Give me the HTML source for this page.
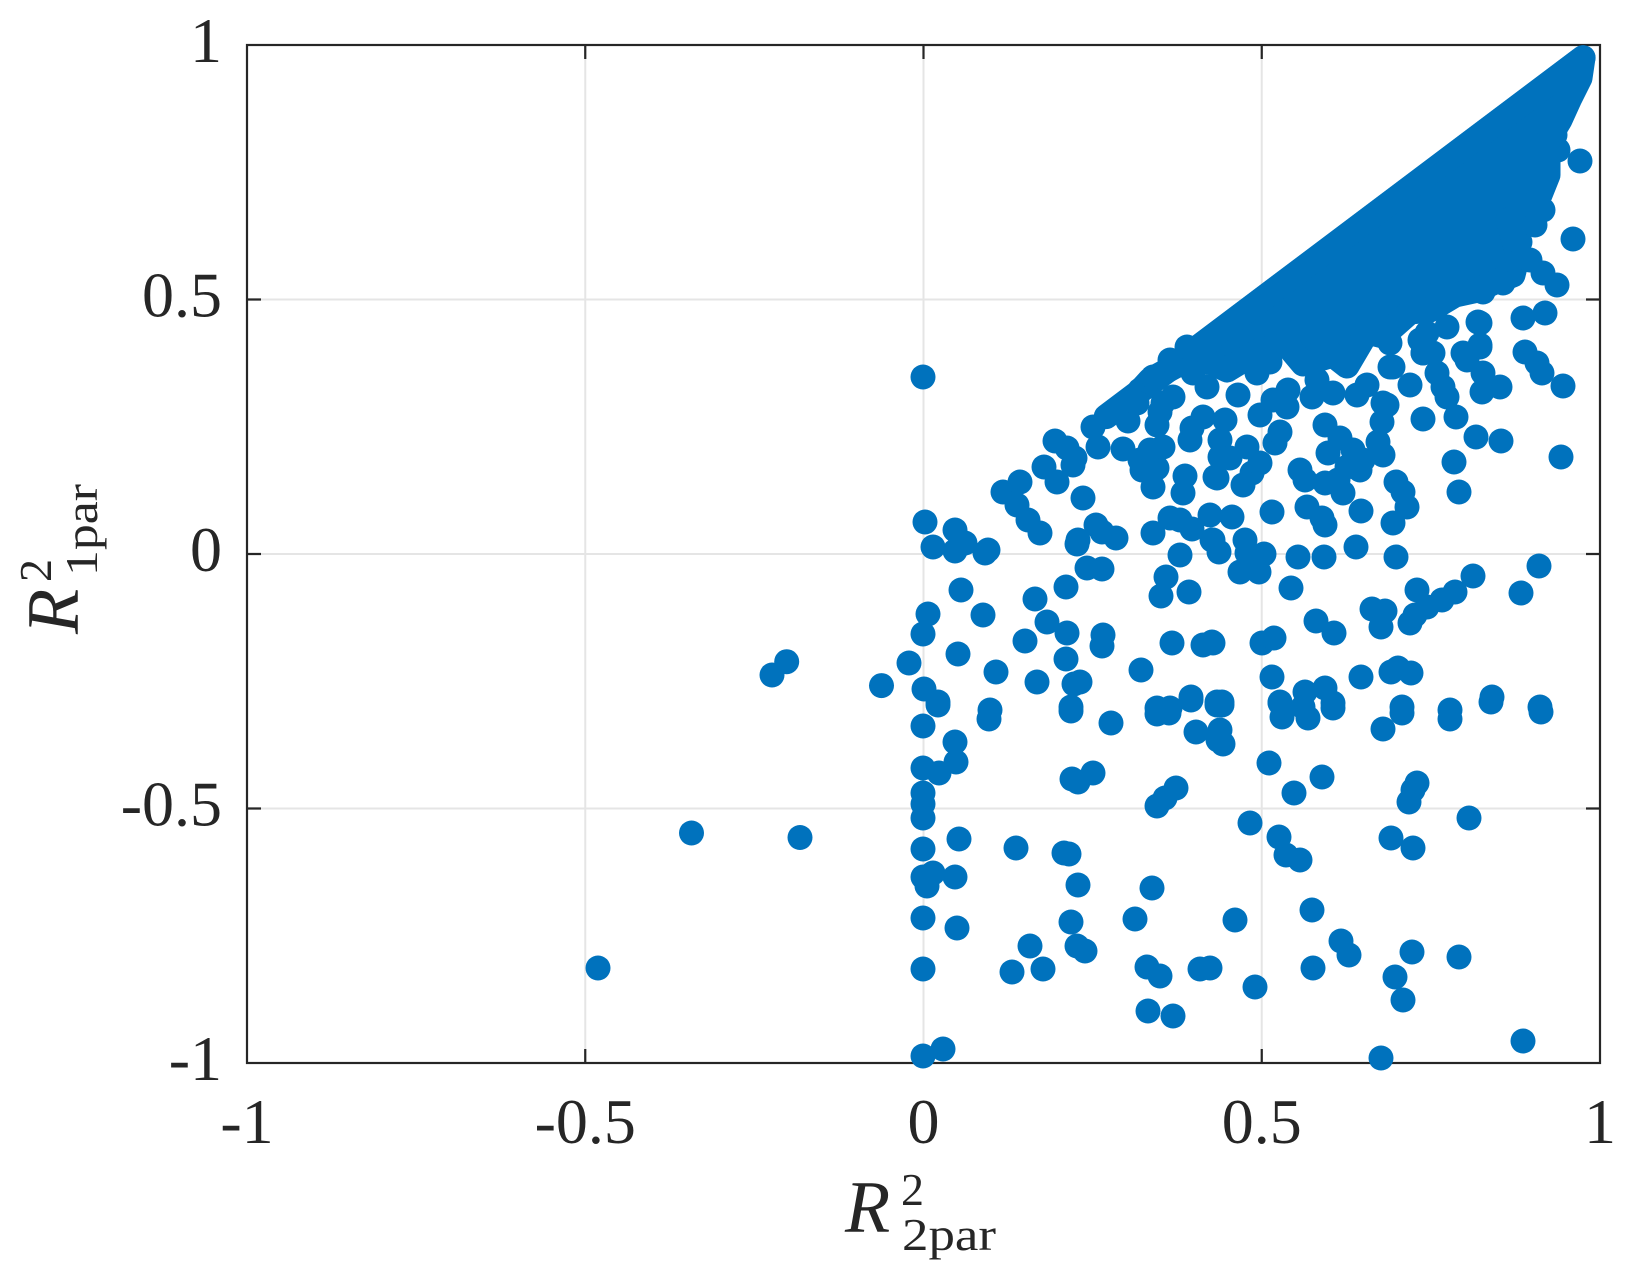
<!DOCTYPE html>
<html><head><meta charset="utf-8"><style>
html,body{margin:0;padding:0;background:#fff}
svg{display:block}
.t{font-family:"Liberation Serif",serif;fill:#262626}
</style></head><body>
<svg width="1630" height="1279" viewBox="0 0 1630 1279" xmlns="http://www.w3.org/2000/svg">
<rect width="1630" height="1279" fill="#fff"/>
<g stroke="#e5e5e5" stroke-width="2">
<line x1="585.25" y1="45" x2="585.25" y2="1063"/>
<line x1="923.5" y1="45" x2="923.5" y2="1063"/>
<line x1="1261.75" y1="45" x2="1261.75" y2="1063"/>
<line x1="247" y1="299.5" x2="1600" y2="299.5"/>
<line x1="247" y1="554" x2="1600" y2="554"/>
<line x1="247" y1="808.5" x2="1600" y2="808.5"/>
</g>
<g stroke="#262626" stroke-width="2.2" fill="none">
<rect x="247" y="45" width="1353" height="1018"/>
<path d="M585.25 1063v-14M923.5 1063v-14M1261.75 1063v-14M585.25 45v14M923.5 45v14M1261.75 45v14M247 299.5h14M247 554h14M247 808.5h14M1600 299.5h-14M1600 554h-14M1600 808.5h-14"/>
</g>
<g fill="#0072BD">
<line x1="1106.2" y1="416.6" x2="1583.1" y2="57.7" stroke="#0072BD" stroke-width="25" stroke-linecap="round"/>
<polygon stroke="#0072BD" stroke-width="25" stroke-linejoin="round" points="1140,391 1583,57.7 1580,78 1570,98 1560,120 1548,140 1548,175 1540,195 1532,210 1508,220 1518,255 1513,275 1495,282 1478,290 1455,295 1430,310 1410,312 1383,336 1367,332 1347,366 1333,355 1303,364 1287,345 1260,350 1227,370 1210,362 1183,362 1150,380"/>
<g>
<circle cx="598" cy="968" r="12.5"/><circle cx="691.5" cy="833" r="12.5"/><circle cx="800" cy="837.5" r="12.5"/><circle cx="772" cy="675" r="12.5"/><circle cx="786.7" cy="661.7" r="12.5"/><circle cx="881.5" cy="685.6" r="12.5"/><circle cx="909" cy="663" r="12.5"/>
<circle cx="923" cy="377" r="12.5"/><circle cx="925" cy="522" r="12.5"/><circle cx="933" cy="547" r="12.5"/><circle cx="955" cy="530" r="12.5"/><circle cx="955" cy="551" r="12.5"/><circle cx="965" cy="543" r="12.5"/><circle cx="985" cy="553" r="12.5"/><circle cx="988" cy="550" r="12.5"/><circle cx="961" cy="590" r="12.5"/><circle cx="928" cy="614" r="12.5"/><circle cx="923" cy="634" r="12.5"/><circle cx="983" cy="615" r="12.5"/><circle cx="958" cy="654" r="12.5"/><circle cx="924" cy="689" r="12.5"/><circle cx="938" cy="702" r="12.5"/>
<circle cx="1003" cy="492" r="12.5"/><circle cx="1020" cy="482" r="12.5"/><circle cx="1017" cy="505" r="12.5"/><circle cx="1028" cy="520" r="12.5"/><circle cx="1040" cy="533" r="12.5"/><circle cx="1055" cy="441" r="12.5"/><circle cx="1067" cy="448" r="12.5"/><circle cx="1075" cy="458" r="12.5"/><circle cx="1073" cy="465" r="12.5"/><circle cx="1044" cy="467" r="12.5"/><circle cx="1057" cy="482" r="12.5"/><circle cx="1083" cy="498" r="12.5"/><circle cx="1093" cy="427" r="12.5"/><circle cx="1098" cy="447" r="12.5"/><circle cx="1123" cy="449" r="12.5"/><circle cx="1128" cy="421" r="12.5"/><circle cx="1123" cy="413" r="12.5"/><circle cx="1127" cy="402" r="12.5"/>
<circle cx="1078" cy="540" r="12.5"/><circle cx="1077" cy="544" r="12.5"/><circle cx="1096" cy="525" r="12.5"/><circle cx="1102" cy="532" r="12.5"/><circle cx="1116" cy="538" r="12.5"/><circle cx="1087" cy="568" r="12.5"/><circle cx="1102" cy="569" r="12.5"/><circle cx="1066" cy="587" r="12.5"/><circle cx="1035" cy="599" r="12.5"/><circle cx="1047" cy="622" r="12.5"/><circle cx="1067" cy="633" r="12.5"/><circle cx="1025" cy="641" r="12.5"/><circle cx="1103" cy="635" r="12.5"/><circle cx="1102" cy="646" r="12.5"/><circle cx="1066" cy="659" r="12.5"/><circle cx="996" cy="672" r="12.5"/><circle cx="1037" cy="682" r="12.5"/><circle cx="1074" cy="684" r="12.5"/><circle cx="1080" cy="682" r="12.5"/><circle cx="1071" cy="707" r="12.5"/><circle cx="990" cy="710" r="12.5"/>
<circle cx="1141" cy="670" r="12.5"/><circle cx="1172" cy="643" r="12.5"/><circle cx="1203" cy="645" r="12.5"/><circle cx="1212" cy="642" r="12.5"/><circle cx="1191" cy="697" r="12.5"/><circle cx="1157" cy="708" r="12.5"/><circle cx="1170" cy="708" r="12.5"/><circle cx="1217" cy="702" r="12.5"/><circle cx="1153" cy="533" r="12.5"/><circle cx="1170" cy="518" r="12.5"/><circle cx="1180" cy="520" r="12.5"/><circle cx="1192" cy="529" r="12.5"/><circle cx="1210" cy="515" r="12.5"/><circle cx="1212" cy="540" r="12.5"/><circle cx="1180" cy="555" r="12.5"/><circle cx="1166" cy="577" r="12.5"/><circle cx="1161" cy="596" r="12.5"/><circle cx="1189" cy="592" r="12.5"/>
<circle cx="1153" cy="487" r="12.5"/><circle cx="1183" cy="493" r="12.5"/><circle cx="1185" cy="476" r="12.5"/><circle cx="1215" cy="477" r="12.5"/><circle cx="1142" cy="470" r="12.5"/><circle cx="1157" cy="468" r="12.5"/><circle cx="1140" cy="460" r="12.5"/><circle cx="1150" cy="450" r="12.5"/><circle cx="1163" cy="447" r="12.5"/><circle cx="1157" cy="425" r="12.5"/><circle cx="1160" cy="412" r="12.5"/><circle cx="1190" cy="440" r="12.5"/><circle cx="1192" cy="428" r="12.5"/><circle cx="1220" cy="440" r="12.5"/><circle cx="1220" cy="457" r="12.5"/><circle cx="1203" cy="417" r="12.5"/><circle cx="1207" cy="387" r="12.5"/><circle cx="1193" cy="373" r="12.5"/><circle cx="1173" cy="397" r="12.5"/><circle cx="1163" cy="403" r="12.5"/><circle cx="1140" cy="390" r="12.5"/><circle cx="1153" cy="377" r="12.5"/><circle cx="1170" cy="360" r="12.5"/><circle cx="1187" cy="347" r="12.5"/><circle cx="1203" cy="350" r="12.5"/><circle cx="1137" cy="403" r="12.5"/>
<circle cx="923" cy="726" r="12.5"/><circle cx="938" cy="705" r="12.5"/><circle cx="955" cy="742" r="12.5"/><circle cx="956" cy="762" r="12.5"/><circle cx="923" cy="768" r="12.5"/><circle cx="939" cy="773" r="12.5"/><circle cx="923" cy="793" r="12.5"/><circle cx="923" cy="804" r="12.5"/><circle cx="923" cy="818" r="12.5"/><circle cx="923" cy="849" r="12.5"/><circle cx="959" cy="839" r="12.5"/><circle cx="923" cy="877" r="12.5"/><circle cx="933" cy="873" r="12.5"/><circle cx="927" cy="886" r="12.5"/><circle cx="955" cy="877" r="12.5"/><circle cx="923" cy="918" r="12.5"/><circle cx="957" cy="928" r="12.5"/><circle cx="923" cy="969" r="12.5"/><circle cx="923" cy="1056" r="12.5"/><circle cx="943" cy="1049" r="12.5"/>
<circle cx="989" cy="719" r="12.5"/><circle cx="1071" cy="711" r="12.5"/><circle cx="1111" cy="723" r="12.5"/><circle cx="1157" cy="714" r="12.5"/><circle cx="1169" cy="713" r="12.5"/><circle cx="1191" cy="700" r="12.5"/><circle cx="1196" cy="732" r="12.5"/><circle cx="1218" cy="740" r="12.5"/><circle cx="1217" cy="705" r="12.5"/><circle cx="1072" cy="779" r="12.5"/><circle cx="1078" cy="782" r="12.5"/><circle cx="1093" cy="773" r="12.5"/><circle cx="1157" cy="806" r="12.5"/><circle cx="1165" cy="798" r="12.5"/><circle cx="1176" cy="788" r="12.5"/><circle cx="1016" cy="848" r="12.5"/><circle cx="1064" cy="853" r="12.5"/><circle cx="1069" cy="854" r="12.5"/><circle cx="1078" cy="885" r="12.5"/><circle cx="1152" cy="888" r="12.5"/><circle cx="1071" cy="922" r="12.5"/><circle cx="1135" cy="919" r="12.5"/><circle cx="1030" cy="946" r="12.5"/><circle cx="1077" cy="946" r="12.5"/><circle cx="1085" cy="951" r="12.5"/><circle cx="1012" cy="972" r="12.5"/><circle cx="1043" cy="969" r="12.5"/><circle cx="1147" cy="967" r="12.5"/><circle cx="1160" cy="976" r="12.5"/><circle cx="1200" cy="969" r="12.5"/><circle cx="1148" cy="1011" r="12.5"/><circle cx="1173" cy="1016" r="12.5"/>
<circle cx="1238" cy="395" r="12.5"/><circle cx="1225" cy="420" r="12.5"/><circle cx="1230" cy="458" r="12.5"/><circle cx="1217" cy="478" r="12.5"/><circle cx="1243" cy="485" r="12.5"/><circle cx="1252" cy="473" r="12.5"/><circle cx="1260" cy="463" r="12.5"/><circle cx="1247" cy="447" r="12.5"/><circle cx="1260" cy="415" r="12.5"/><circle cx="1273" cy="400" r="12.5"/><circle cx="1275" cy="443" r="12.5"/><circle cx="1280" cy="432" r="12.5"/><circle cx="1287" cy="407" r="12.5"/><circle cx="1270" cy="362" r="12.5"/><circle cx="1257" cy="373" r="12.5"/><circle cx="1230" cy="367" r="12.5"/><circle cx="1288" cy="390" r="12.5"/><circle cx="1312" cy="397" r="12.5"/><circle cx="1317" cy="380" r="12.5"/><circle cx="1333" cy="393" r="12.5"/><circle cx="1357" cy="395" r="12.5"/><circle cx="1367" cy="385" r="12.5"/><circle cx="1387" cy="405" r="12.5"/><circle cx="1382" cy="422" r="12.5"/><circle cx="1378" cy="442" r="12.5"/><circle cx="1383" cy="455" r="12.5"/><circle cx="1325" cy="425" r="12.5"/><circle cx="1340" cy="438" r="12.5"/><circle cx="1328" cy="453" r="12.5"/><circle cx="1353" cy="450" r="12.5"/><circle cx="1363" cy="460" r="12.5"/><circle cx="1360" cy="470" r="12.5"/><circle cx="1347" cy="467" r="12.5"/><circle cx="1300" cy="470" r="12.5"/><circle cx="1305" cy="480" r="12.5"/><circle cx="1325" cy="483" r="12.5"/><circle cx="1343" cy="493" r="12.5"/><circle cx="1338" cy="480" r="12.5"/>
<circle cx="1390" cy="367" r="12.5"/><circle cx="1410" cy="385" r="12.5"/><circle cx="1390" cy="343" r="12.5"/><circle cx="1423" cy="353" r="12.5"/><circle cx="1437" cy="373" r="12.5"/><circle cx="1443" cy="387" r="12.5"/><circle cx="1447" cy="397" r="12.5"/><circle cx="1423" cy="419" r="12.5"/><circle cx="1456" cy="417" r="12.5"/><circle cx="1480" cy="347" r="12.5"/><circle cx="1467" cy="360" r="12.5"/><circle cx="1483" cy="373" r="12.5"/><circle cx="1482" cy="392" r="12.5"/><circle cx="1500" cy="387" r="12.5"/><circle cx="1525" cy="352" r="12.5"/><circle cx="1537" cy="363" r="12.5"/><circle cx="1542" cy="373" r="12.5"/><circle cx="1563" cy="386" r="12.5"/><circle cx="1476" cy="437" r="12.5"/><circle cx="1501" cy="441" r="12.5"/><circle cx="1561" cy="457" r="12.5"/><circle cx="1454" cy="462" r="12.5"/><circle cx="1459" cy="492" r="12.5"/><circle cx="1396" cy="482" r="12.5"/><circle cx="1403" cy="492" r="12.5"/><circle cx="1407" cy="507" r="12.5"/><circle cx="1393" cy="523" r="12.5"/><circle cx="1361" cy="511" r="12.5"/><circle cx="1307" cy="507" r="12.5"/><circle cx="1322" cy="518" r="12.5"/><circle cx="1325" cy="525" r="12.5"/><circle cx="1272" cy="512" r="12.5"/><circle cx="1232" cy="517" r="12.5"/>
<circle cx="1213" cy="540" r="12.5"/><circle cx="1219" cy="552" r="12.5"/><circle cx="1245" cy="540" r="12.5"/><circle cx="1247" cy="553" r="12.5"/><circle cx="1264" cy="554" r="12.5"/><circle cx="1240" cy="572" r="12.5"/><circle cx="1259" cy="572" r="12.5"/><circle cx="1298" cy="557" r="12.5"/><circle cx="1324" cy="557" r="12.5"/><circle cx="1356" cy="547" r="12.5"/><circle cx="1396" cy="557" r="12.5"/><circle cx="1291" cy="588" r="12.5"/><circle cx="1316" cy="621" r="12.5"/><circle cx="1334" cy="633" r="12.5"/><circle cx="1372" cy="609" r="12.5"/><circle cx="1385" cy="611" r="12.5"/><circle cx="1381" cy="627" r="12.5"/><circle cx="1417" cy="590" r="12.5"/><circle cx="1410" cy="623" r="12.5"/><circle cx="1415" cy="615" r="12.5"/><circle cx="1427" cy="607" r="12.5"/><circle cx="1442" cy="600" r="12.5"/><circle cx="1455" cy="592" r="12.5"/><circle cx="1473" cy="576" r="12.5"/><circle cx="1539" cy="566" r="12.5"/><circle cx="1521" cy="593" r="12.5"/><circle cx="1213" cy="643" r="12.5"/><circle cx="1262" cy="643" r="12.5"/><circle cx="1274" cy="638" r="12.5"/><circle cx="1272" cy="677" r="12.5"/><circle cx="1361" cy="677" r="12.5"/><circle cx="1391" cy="672" r="12.5"/><circle cx="1398" cy="668" r="12.5"/><circle cx="1411" cy="673" r="12.5"/><circle cx="1222" cy="702" r="12.5"/><circle cx="1280" cy="702" r="12.5"/><circle cx="1305" cy="692" r="12.5"/><circle cx="1325" cy="688" r="12.5"/><circle cx="1333" cy="703" r="12.5"/><circle cx="1492" cy="697" r="12.5"/><circle cx="1540" cy="707" r="12.5"/><circle cx="1402" cy="707" r="12.5"/><circle cx="1450" cy="710" r="12.5"/>
<circle cx="1222" cy="705" r="12.5"/><circle cx="1220" cy="730" r="12.5"/><circle cx="1223" cy="744" r="12.5"/><circle cx="1282" cy="717" r="12.5"/><circle cx="1280" cy="703" r="12.5"/><circle cx="1308" cy="718" r="12.5"/><circle cx="1303" cy="707" r="12.5"/><circle cx="1333" cy="708" r="12.5"/><circle cx="1383" cy="729" r="12.5"/><circle cx="1402" cy="713" r="12.5"/><circle cx="1450" cy="719" r="12.5"/><circle cx="1491" cy="702" r="12.5"/><circle cx="1541" cy="712" r="12.5"/><circle cx="1269" cy="763" r="12.5"/><circle cx="1322" cy="777" r="12.5"/><circle cx="1294" cy="793" r="12.5"/><circle cx="1417" cy="783" r="12.5"/><circle cx="1413" cy="790" r="12.5"/><circle cx="1409" cy="802" r="12.5"/><circle cx="1250" cy="823" r="12.5"/><circle cx="1279" cy="837" r="12.5"/><circle cx="1286" cy="855" r="12.5"/><circle cx="1300" cy="860" r="12.5"/><circle cx="1391" cy="838" r="12.5"/><circle cx="1413" cy="848" r="12.5"/><circle cx="1469" cy="818" r="12.5"/><circle cx="1235" cy="920" r="12.5"/><circle cx="1312" cy="910" r="12.5"/><circle cx="1341" cy="941" r="12.5"/><circle cx="1349" cy="955" r="12.5"/><circle cx="1412" cy="952" r="12.5"/><circle cx="1459" cy="957" r="12.5"/><circle cx="1210" cy="968" r="12.5"/><circle cx="1313" cy="968" r="12.5"/><circle cx="1395" cy="977" r="12.5"/><circle cx="1403" cy="1000" r="12.5"/><circle cx="1255" cy="987" r="12.5"/><circle cx="1523" cy="1041" r="12.5"/><circle cx="1381" cy="1058" r="12.5"/>
<circle cx="1580" cy="161" r="12.5"/><circle cx="1573" cy="239" r="12.5"/><circle cx="1557" cy="285" r="12.5"/><circle cx="1543" cy="273" r="12.5"/><circle cx="1545" cy="313" r="12.5"/><circle cx="1523" cy="318" r="12.5"/><circle cx="1478" cy="322" r="12.5"/><circle cx="1480" cy="345" r="12.5"/><circle cx="1543" cy="210" r="12.5"/><circle cx="1520" cy="242" r="12.5"/><circle cx="1517" cy="263" r="12.5"/><circle cx="1503" cy="283" r="12.5"/><circle cx="1483" cy="292" r="12.5"/><circle cx="1427" cy="333" r="12.5"/><circle cx="1423" cy="353" r="12.5"/><circle cx="1463" cy="353" r="12.5"/><circle cx="1447" cy="327" r="12.5"/><circle cx="1433" cy="353" r="12.5"/><circle cx="1420" cy="340" r="12.5"/><circle cx="1393" cy="367" r="12.5"/><circle cx="1383" cy="403" r="12.5"/><circle cx="1480" cy="323" r="12.5"/>
<circle cx="1558" cy="150" r="12.5"/><circle cx="1555" cy="135" r="12.5"/><circle cx="1535" cy="225" r="12.5"/><circle cx="1530" cy="260" r="12.5"/>
</g>
</g>
<g class="t" font-size="64" text-anchor="middle">
<text x="247" y="1143">-1</text>
<text x="585.25" y="1143">-0.5</text>
<text x="923.5" y="1143">0</text>
<text x="1261.75" y="1143">0.5</text>
<text x="1600" y="1143">1</text>
</g>
<g class="t" font-size="64" text-anchor="end">
<text x="222" y="62">1</text>
<text x="222" y="316.5">0.5</text>
<text x="222" y="571">0</text>
<text x="222" y="825.5">-0.5</text>
<text x="222" y="1080">-1</text>
</g>
<g class="t">
<text x="845" y="1232" font-size="74" font-style="italic">R</text>
<text x="901" y="1205" font-size="46">2</text>
<text x="902" y="1250" font-size="46" textLength="94" lengthAdjust="spacingAndGlyphs">2par</text>
</g>
<g class="t" transform="translate(78,634) rotate(-90)">
<text x="0" y="0" font-size="74" font-style="italic">R</text>
<text x="52" y="-27" font-size="46">2</text>
<text x="58" y="19" font-size="46" textLength="92" lengthAdjust="spacingAndGlyphs">1par</text>
</g>
</svg>
</body></html>
